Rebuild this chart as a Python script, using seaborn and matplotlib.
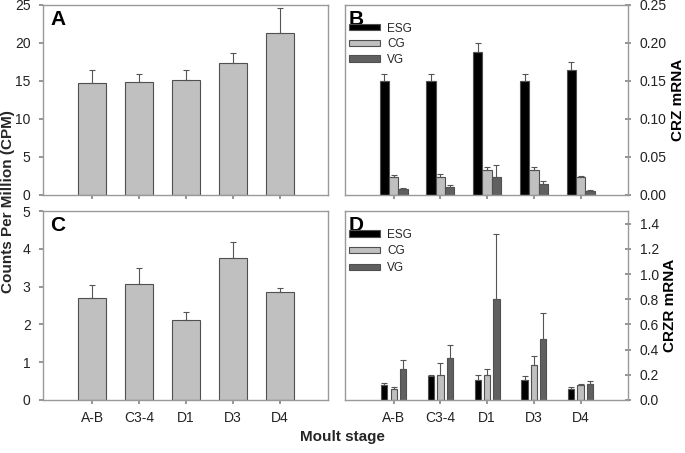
import numpy as np
import pandas as pd
import seaborn as sns
import matplotlib.pyplot as plt

stages = ['A-B', 'C3-4', 'D1', 'D3', 'D4']
tissues = ['ESG', 'CG', 'VG']

# panel A / C: transcriptome counts
cpm_crz = [14.7, 14.9, 15.1, 17.3, 21.3]
cpm_crz_err = [1.7, 1.0, 1.3, 1.4, 3.3]
cpm_crzr = [2.71, 3.07, 2.13, 3.77, 2.85]
cpm_crzr_err = [0.34, 0.42, 0.20, 0.42, 0.12]

# panel B: CRZ mRNA by tissue
crz_esg = [0.150, 0.150, 0.188, 0.150, 0.165]
crz_esg_err = [0.009, 0.009, 0.012, 0.009, 0.010]
crz_cg = [0.024, 0.023, 0.032, 0.032, 0.023]
crz_cg_err = [0.002, 0.005, 0.004, 0.004, 0.002]
crz_vg = [0.0075, 0.010, 0.023, 0.014, 0.0055]
crz_vg_err = [0.002, 0.003, 0.016, 0.004, 0.001]

# panel D: CRZR mRNA by tissue
crzr_esg = [0.12, 0.19, 0.155, 0.155, 0.087]
crzr_esg_err = [0.013, 0.010, 0.040, 0.032, 0.013]
crzr_cg = [0.087, 0.20, 0.20, 0.277, 0.121]
crzr_cg_err = [0.013, 0.093, 0.045, 0.069, 0.006]
crzr_vg = [0.25, 0.33, 0.80, 0.488, 0.127]
crzr_vg_err = [0.07, 0.11, 0.52, 0.20, 0.023]

sns.set_theme(style='white')
plt.rcParams['font.family'] = ['Liberation Sans', 'DejaVu Sans']
plt.rcParams['axes.edgecolor'] = '#999999'
plt.rcParams['xtick.color'] = '#888888'
plt.rcParams['ytick.color'] = '#888888'
plt.rcParams['xtick.labelcolor'] = '#222222'
plt.rcParams['ytick.labelcolor'] = '#222222'

fig = plt.figure(figsize=(6.85, 4.53), dpi=100)
axA = fig.add_axes([0.063, 0.570, 0.416, 0.419])
axB = fig.add_axes([0.504, 0.570, 0.413, 0.419])
axC = fig.add_axes([0.063, 0.117, 0.416, 0.417])
axD = fig.add_axes([0.504, 0.117, 0.413, 0.417])

edge = '#505050'
err_col = '#555555'


def add_err(ax, container, errs):
    for bar, e in zip(container, errs):
        x = bar.get_x() + bar.get_width() / 2
        ax.errorbar(x, bar.get_height(), yerr=[[0], [e]], color=err_col,
                    capsize=2.5, elinewidth=0.8, capthick=0.8, fmt='none')


def single(ax, vals, errs, ymax, step, letter):
    sns.barplot(x=stages, y=vals, color='#c0c0c0', saturation=1, width=0.6,
                edgecolor=edge, linewidth=0.8, ax=ax)
    add_err(ax, ax.containers[0], errs)
    ax.set_ylim(0, ymax)
    ax.set_yticks(np.arange(0, ymax + step / 2, step))
    ax.text(0.025, 0.975, letter, transform=ax.transAxes, fontsize=15,
            fontweight='bold', va='top', color='black')


def grouped(ax, series, errs, gap, ymax, ticks, fmt, letter, ylabel, lspace):
    df = pd.DataFrame({
        'stage': stages * 3,
        'tissue': np.repeat(tissues, len(stages)),
        'value': sum(series, []),
    })
    sns.barplot(data=df, x='stage', y='value', hue='tissue',
                palette=['black', '#c0c0c0', '#606060'], saturation=1,
                width=0.6, gap=gap, edgecolor=edge, linewidth=0.8, ax=ax)
    for cont, e in zip(ax.containers, errs):
        add_err(ax, cont, e)
    ax.set_ylim(0, ymax)
    ax.set_yticks(ticks)
    ax.set_yticklabels([fmt.format(t) for t in ticks])
    ax.yaxis.tick_right()
    ax.yaxis.set_label_position('right')
    ax.tick_params(axis='y', right=True, direction='inout', length=5, pad=6)
    ax.set_ylabel(ylabel, fontsize=11, fontweight='bold', color='black', labelpad=3)
    ax.legend(title=None, loc='upper left', bbox_to_anchor=(-0.01, 0.945),
              frameon=False, fontsize=8.5, handlelength=2.6, handleheight=0.45,
              labelspacing=lspace, handletextpad=0.6, borderaxespad=0.2)
    ax.text(0.012, 0.975, letter, transform=ax.transAxes, fontsize=15,
            fontweight='bold', va='top', color='black')


single(axA, cpm_crz, cpm_crz_err, 25, 5, 'A')
single(axC, cpm_crzr, cpm_crzr_err, 5, 1, 'C')
grouped(axB, [crz_esg, crz_cg, crz_vg], [crz_esg_err, crz_cg_err, crz_vg_err],
        0, 0.25, np.arange(0, 0.26, 0.05), '{:.2f}', 'B', 'CRZ mRNA', 0.3)
grouped(axD, [crzr_esg, crzr_cg, crzr_vg], [crzr_esg_err, crzr_cg_err, crzr_vg_err],
        0.35, 1.5, np.arange(0, 1.41, 0.2), '{:.1f}', 'D', 'CRZR mRNA', 0.4)

for ax in [axA, axB, axC, axD]:
    ax.set_xlim(-1.04, 5.02)
    ax.set_xlabel('')
    ax.tick_params(axis='x', bottom=True, direction='out', length=3,
                   labelsize=10, pad=5)
    ax.tick_params(axis='y', labelsize=10)
    for s in ax.spines.values():
        s.set_linewidth(1.0)
for ax in [axA, axC]:
    ax.set_ylabel('')
    ax.tick_params(axis='y', left=True, direction='out', length=3, pad=6)
for ax in [axA, axB]:
    ax.set_xticklabels([])

fig.text(0.012, 0.555, 'Counts Per Million (CPM)', rotation=90, va='center',
         ha='center', fontsize=11, fontweight='bold')
fig.text(0.5, 0.035, 'Moult stage', ha='center', va='center', fontsize=11,
         fontweight='bold')

fig.savefig('out.png', dpi=100)
